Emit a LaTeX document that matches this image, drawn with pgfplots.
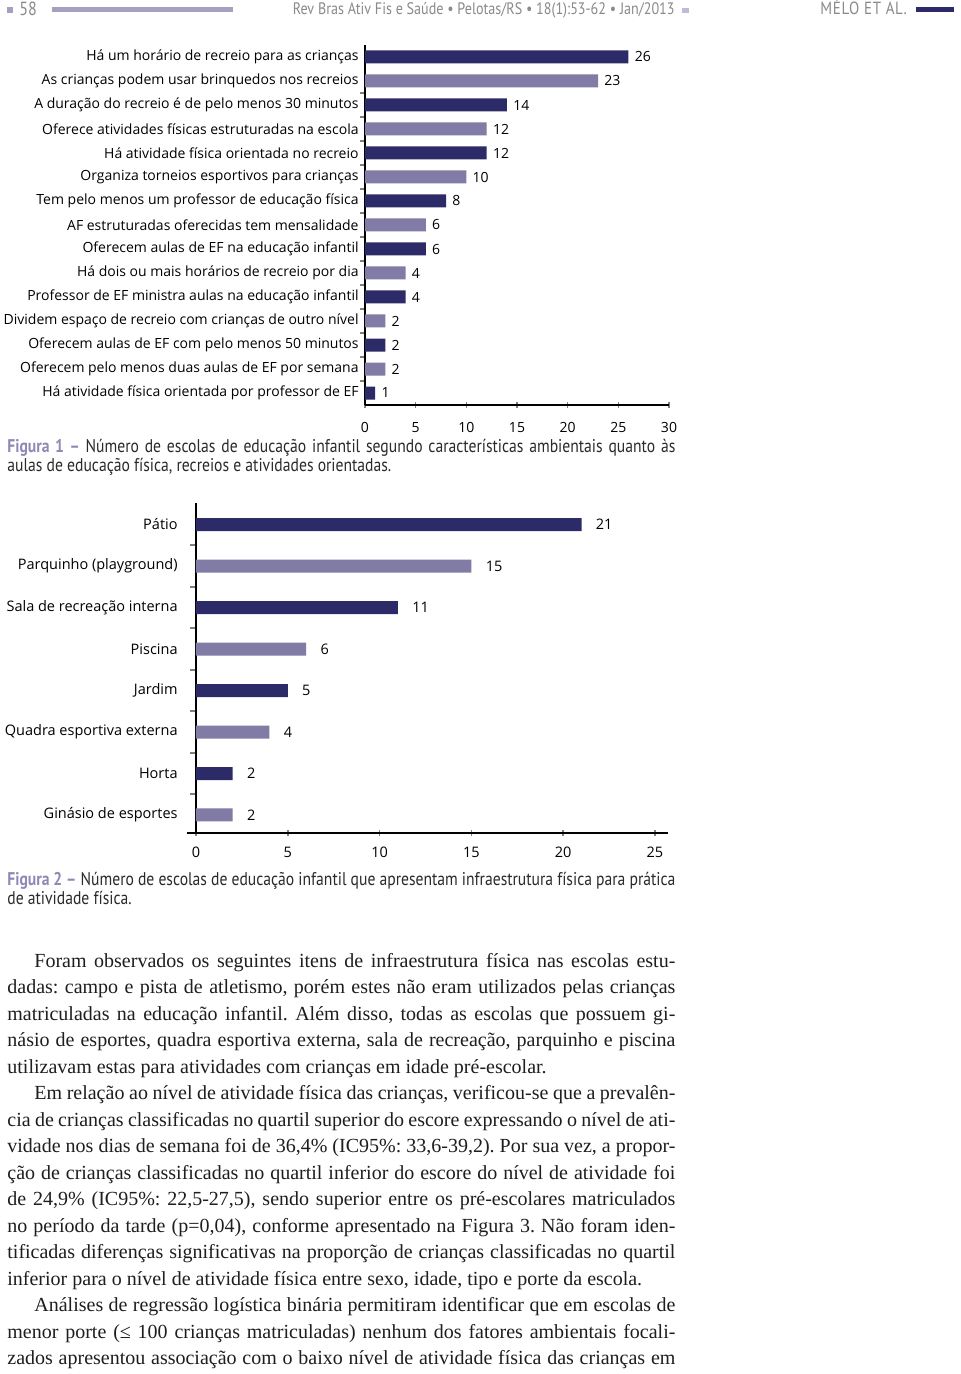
\documentclass[border=0pt]{standalone}
\usepackage{pgfplots}
\pgfplotsset{compat=1.18}
\usepackage{fontspec}
\setmainfont{Liberation Serif}
\newfontfamily\chartfont{Open Sans}
\newfontfamily\capfont[FakeStretch=0.85]{PT Sans}
\definecolor{barDark}{HTML}{2D2B67}
\definecolor{barLight}{HTML}{817CA6}
\definecolor{headBar}{HTML}{A3A0C2}
\definecolor{figLabel}{HTML}{8E8AB5}
\definecolor{headText}{HTML}{8A8A8A}
\definecolor{bodyText}{HTML}{1E1E1E}
\definecolor{capText}{HTML}{2A2A2A}

% figure 1 (bottom category first)
\pgfplotstableread{
pos val
0  1
2  2
4  4
6  6
8  8
10 12
12 14
14 26
}\figAdark
\pgfplotstableread{
pos val
1  2
3  2
5  4
7  6
9  10
11 12
13 23
}\figAlight
% figure 2
\pgfplotstableread{
pos val
1 2
3 5
5 11
7 21
}\figBdark
\pgfplotstableread{
pos val
0 2
2 4
4 6
6 15
}\figBlight

\frenchspacing
\newcommand{\bodyfont}{\fontsize{10pt}{13pt}\selectfont\color{bodyText}}
\newcommand{\capsize}{\capfont\fontsize{9.2pt}{10pt}\selectfont\color{capText}}
\newcommand{\jline}[2]{\node[anchor=base west,inner sep=0] at (7,#1) {\bodyfont\hbox to 334pt{#2}};}
\newcommand{\iline}[2]{\node[anchor=base west,inner sep=0] at (7,#1) {\bodyfont\hbox to 334pt{\hskip 13.5pt #2}};}
\newcommand{\lline}[2]{\node[anchor=base west,inner sep=0] at (7,#1) {\bodyfont #2};}

\begin{document}
\begin{tikzpicture}[x=0.5pt,y=-0.5pt]
\useasboundingbox (0,0) rectangle (960,1374);
\fill[white] (0,0) rectangle (960,1374);

% header
\fill[headBar] (7,7) rectangle (13,13);
\node[anchor=base west,inner sep=0,text=headText] at (19,16) {\capfont\fontsize{9.5pt}{10pt}\selectfont 58};
\fill[headBar] (52,7) rectangle (233,12);
\node[anchor=base east,inner sep=0,text=headText] at (675,15) {\capfont\fontsize{8.3pt}{9pt}\selectfont Rev Bras Ativ Fis e Saúde • Pelotas/RS • 18(1):53-62 • Jan/2013};
\fill[headBar!70] (682,8) rectangle (689,13);
\node[anchor=base west,inner sep=0,text=headText] at (820,15) {\capfont\fontsize{8.8pt}{9pt}\selectfont\addfontfeature{LetterSpace=4}MÉLO ET AL.};
\fill[barDark] (916,7) rectangle (954,12);

% figure 1
\begin{axis}[
  at={(182.5pt,-202.5pt)}, anchor=south west,
  scale only axis, width=152pt, height=180pt,
  xbar, bar width=6.5pt, bar shift=0pt,
  xmin=0, xmax=30, ymin=-0.5, ymax=14.5,
  axis x line=bottom, axis y line=left,
  axis line style={-, line width=0.8pt},
  xtick={0,5,...,30},
  ytick={0,...,14},
  yticklabels={Há atividade física orientada por professor de EF,
    Oferecem pelo menos duas aulas de EF por semana,
    Oferecem aulas de EF com pelo menos 50 minutos,
    Dividem espaço de recreio com crianças de outro nível,
    Professor de EF ministra aulas na educação infantil,
    Há dois ou mais horários de recreio por dia,
    Oferecem aulas de EF na educação infantil,
    AF estruturadas oferecidas tem mensalidade,
    Tem pelo menos um professor de educação física,
    Organiza torneios esportivos para crianças,
    Há atividade física orientada no recreio,
    Oferece atividades físicas estruturadas na escola,
    A duração do recreio é de pelo menos 30 minutos,
    As crianças podem usar brinquedos nos recreios,
    Há um horário de recreio para as crianças},
  minor ytick={0.5,1.5,...,12.5},
  tick align=outside,
  major y tick style={draw=none},
  minor y tick style={line width=0.8pt},
  major x tick style={line width=0.8pt, yshift=1.5pt},
  minor tick length=2.5pt, major tick length=3pt,
  /pgf/number format/assume math mode=true,
  ticklabel style={font=\chartfont\fontsize{7pt}{8pt}\selectfont},
  yticklabel style={inner sep=0pt, xshift=0pt},
  xticklabel style={yshift=-2pt},
  point meta=x,
  nodes near coords,
  nodes near coords align=horizontal,
  every node near coord/.append style={font=\chartfont\fontsize{7pt}{8pt}\selectfont, inner sep=0pt, xshift=3pt, text=black},
]
\addplot[fill=barDark, draw=none] table[x=val,y=pos] {\figAdark};
\addplot[fill=barLight, draw=none] table[x=val,y=pos] {\figAlight};
\end{axis}

\node[anchor=base west,inner sep=0] at (7,452) {\capsize\hbox to 334pt{\textcolor{figLabel}{\bfseries Figura 1 –} Número de escolas de educação infantil segundo características ambientais quanto às}};
\node[anchor=base west,inner sep=0] at (7,471) {\capsize aulas de educação física, recreios e atividades orientadas.};

% figure 2
\begin{axis}[
  at={(93.4pt,-416.5pt)}, anchor=south west,
  scale only axis, width=240.5pt, height=165pt,
  xbar, bar width=6.5pt, bar shift=0pt,
  xmin=-0.5, xmax=25.7, ymin=-0.434, ymax=7.518,
  axis x line=bottom, axis y line=center,
  axis line style={-, line width=0.8pt},
  hide obscured x ticks=false,
  xtick={0,5,...,25},
  ytick={0,...,7},
  yticklabels={Ginásio de esportes, Horta, Quadra esportiva externa, Jardim,
    Piscina, Sala de recreação interna, Parquinho (playground), Pátio},
  minor ytick={0.5,1.5,...,6.5},
  tick align=outside,
  major y tick style={draw=none},
  minor y tick style={line width=0.8pt},
  major x tick style={line width=0.8pt, yshift=1.5pt},
  minor tick length=3pt, major tick length=3pt,
  /pgf/number format/assume math mode=true,
  ticklabel style={font=\chartfont\fontsize{7.25pt}{8.5pt}\selectfont},
  yticklabel style={inner sep=0pt, xshift=-6pt},
  xticklabel style={yshift=-0.5pt},
  point meta=x,
  nodes near coords,
  nodes near coords align=horizontal,
  every node near coord/.append style={font=\chartfont\fontsize{7.25pt}{8.5pt}\selectfont, inner sep=0pt, xshift=7pt, text=black},
]
\addplot[fill=barDark, draw=none] table[x=val,y=pos] {\figBdark};
\addplot[fill=barLight, draw=none] table[x=val,y=pos] {\figBlight};
\end{axis}

\node[anchor=base west,inner sep=0] at (7,885) {\capsize\hbox to 334pt{\textcolor{figLabel}{\bfseries Figura 2 –} Número de escolas de educação infantil que apresentam infraestrutura física para prática}};
\node[anchor=base west,inner sep=0] at (7,904) {\capsize de atividade física.};

% body text
\iline{967}{Foram observados os seguintes itens de infraestrutura física nas escolas estu-}
\jline{993.5}{dadas: campo e pista de atletismo, porém estes não eram utilizados pelas crianças}
\jline{1020}{matriculadas na educação infantil. Além disso, todas as escolas que possuem gi-}
\jline{1046.5}{násio de esportes, quadra esportiva externa, sala de recreação, parquinho e piscina}
\lline{1073}{utilizavam estas para atividades com crianças em idade pré-escolar.}
\iline{1099.5}{Em relação ao nível de atividade física das crianças, verificou-se que a prevalên-}
\jline{1126}{cia de crianças classificadas no quartil superior do escore expressando o nível de ati-}
\jline{1152.5}{vidade nos dias de semana foi de 36,4\% (IC95\%: 33,6-39,2). Por sua vez, a propor-}
\jline{1179}{ção de crianças classificadas no quartil inferior do escore do nível de atividade foi}
\jline{1205.5}{de 24,9\% (IC95\%: 22,5-27,5), sendo superior entre os pré-escolares matriculados}
\jline{1232}{no período da tarde (p=0,04), conforme apresentado na Figura 3. Não foram iden-}
\jline{1258.5}{tificadas diferenças significativas na proporção de crianças classificadas no quartil}
\lline{1285}{inferior para o nível de atividade física entre sexo, idade, tipo e porte da escola.}
\iline{1311.5}{Análises de regressão logística binária permitiram identificar que em escolas de}
\jline{1338}{menor porte (≤ 100 crianças matriculadas) nenhum dos fatores ambientais focali-}
\jline{1364.5}{zados apresentou associação com o baixo nível de atividade física das crianças em}
\end{tikzpicture}
\end{document}
